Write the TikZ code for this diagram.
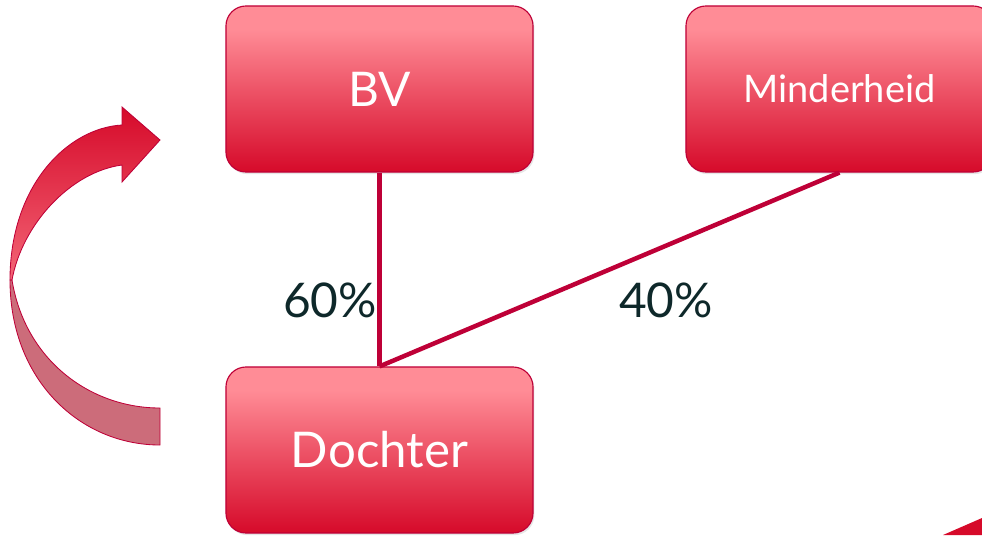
\documentclass[tikz,border=0pt]{standalone}
\usepackage{fontspec}
\setmainfont{Lato}
\usetikzlibrary{shadows}

\definecolor{boxtop}{RGB}{255,140,150}
\definecolor{boxbot}{RGB}{214,10,42}
\definecolor{boxline}{RGB}{190,0,55}
\definecolor{pcttext}{RGB}{14,40,42}
\definecolor{arrowlow}{RGB}{204,108,122}

% the node fills 25bp..75bp of this shading
\pgfdeclareverticalshading{boxshade}{100bp}{
    color(0bp)=(boxbot); color(25bp)=(boxbot); color(47bp)=(boxbot!50!boxtop);
    color(68bp)=(boxtop); color(100bp)=(boxtop)}

\tikzset{
    entity/.style={draw=boxline, line width=0.8pt, rounded corners=0.5cm,
        shading=boxshade,
        minimum width=7.675cm, minimum height=4.15cm, text=white,
        drop shadow={opacity=0.2, shadow xshift=1pt, shadow yshift=-1.5pt}},
    share/.style={draw=boxline, line width=3.2pt},
    pct/.style={text=pcttext, font=\fontsize{34}{37}\selectfont}
}

\begin{document}
\begin{tikzpicture}[x=0.025cm, y=-0.025cm]
    \useasboundingbox (0,0) rectangle (982,535);

    \node[entity, font=\fontsize{34}{37}\selectfont] (bv) at (379.5,89) {BV};
    \node[entity, font=\fontsize{27}{30}\selectfont] (minder) at (839.5,89) {Minderheid};
    \node[entity, font=\fontsize{35}{38}\selectfont] (dochter) at (379.5,450) {Dochter};

    % shareholdings
    \draw[share] (bv.south) -- (dochter.north);
    \draw[share] (minder.south) -- (dochter.north);

    \node[pct] (p60) at (330,300) {60\%};
    \node[pct] (p40) at (666,300) {40\%};

    % curved arrow, lower half
    \draw[boxline, line width=0.6pt, fill=arrowlow]
        (10,280) .. controls (10,380) and (80,445) .. (160,445) -- (160,408)
        .. controls (90,408) and (25,360) .. (12,280) -- cycle;
    % curved arrow, upper half with head
    \draw[boxline, line width=0.6pt, top color=boxbot, bottom color=boxtop!70!boxbot]
        (12,280) .. controls (22,225) and (70,172) .. (122,165) -- (122,182)
        -- (160,140) -- (122,107) -- (122,125)
        .. controls (68,128) and (10,185) .. (10,280) -- cycle;

    % corner of a shape cut off at the edge
    \fill[boxbot] (943,535) -- (982,518) -- (982,535) -- cycle;
\end{tikzpicture}
\end{document}
